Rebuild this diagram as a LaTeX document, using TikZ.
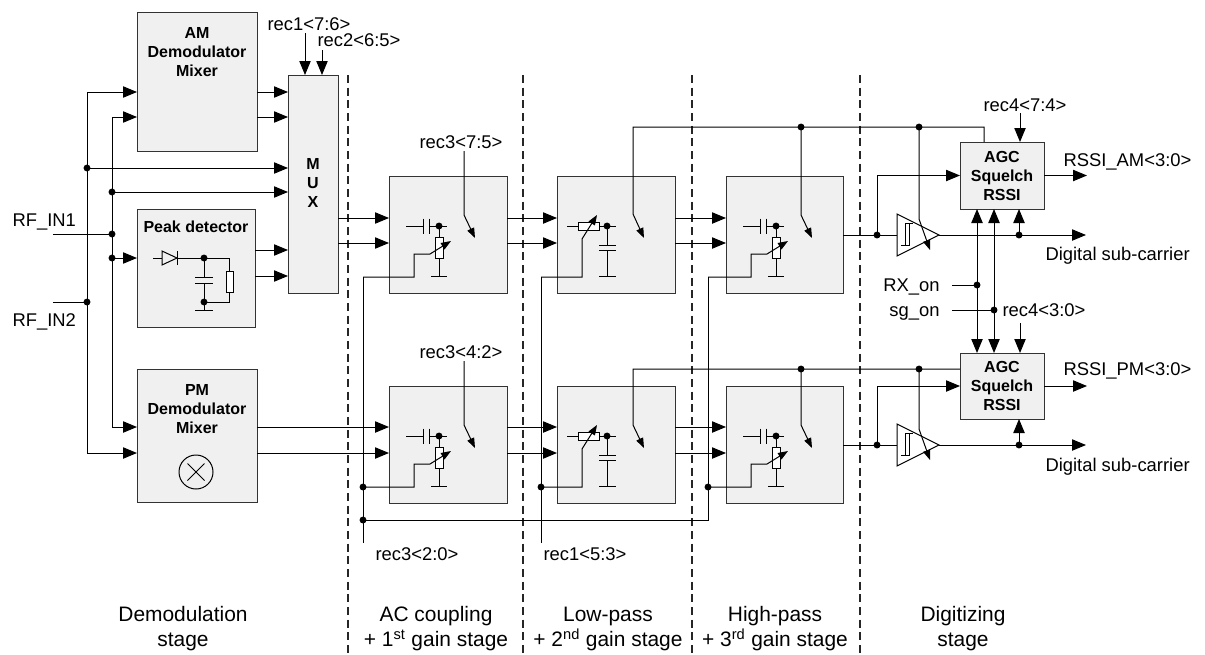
\documentclass[tikz,border=0pt]{standalone}
\usepackage{fontspec}
\setmainfont{Liberation Sans}
\usetikzlibrary{arrows.meta}
\newcommand\hpstage[3]{%
\begin{scope}[shift={(#1,#2)}]
\draw (17,50) -- (34,50) (34,42.5) -- (34,57.5) (40,42.5) -- (40,57.5) (40,50) -- (58,50);
\draw (50,50) -- (50,61) (50,82) -- (50,100) (42,100) -- (58,100);
\draw[fill=white] (46,61) rectangle (54,82);
\fill (50,50) circle (2.6pt);
\draw[sarr] ({#3-#1},101) -| (25,78) -- (41,78) -- (62,65);
\end{scope}}
\newcommand\lpstage[3]{%
\begin{scope}[shift={(#1,#2)}]
\draw (10,50) -- (21,50) (42,50) -- (59,50);
\draw[fill=white] (21,46) rectangle (42,54);
\draw (50,50) -- (50,69) (42,69) -- (59,69) (42,74) -- (59,74) (50,74) -- (50,100) (42,100) -- (59,100);
\fill (50,50) circle (2.6pt);
\draw[sarr] ({#3-#1},101) -| (25,63) -- (40,39);
\end{scope}}
\newcommand\mybox[5]{\node[box, anchor=north west, minimum width={(#4-#2)*0.75pt}, minimum height={(#5-#3)*0.75pt}] (#1) at (#2,#3) {};}
\newcommand\comparator[1]{%
\begin{scope}[shift={(897,#1)}]
\draw[fill=white] (0,-21) -- (42,0) -- (0,21) -- cycle;
\draw (4,10) -- (12,10) -- (12,-12) (8,10) -- (8,-12) -- (16,-12);
\end{scope}}
\begin{document}
\begin{tikzpicture}[x=0.75pt,y=-0.75pt, line width=0.75pt,
 arr/.style={-{Triangle[length=10.5pt,width=8.5pt]}},
 darr/.style={{Triangle[length=10.5pt,width=8.5pt]}-{Triangle[length=10.5pt,width=8.5pt]}},
 sarr/.style={-{Triangle[length=7.5pt,width=5.5pt]}},
 box/.style={draw=black!80, fill=black!6, inner sep=0pt, outer sep=0pt},
 lbl/.style={inner sep=0pt, font=\fontsize{13.8}{16}\selectfont, text height=9.9pt, text depth=0pt},
 btxt/.style={inner sep=0pt, align=center, font=\bfseries\fontsize{12}{14.25}\selectfont},
 stg/.style={inner sep=0pt, align=center, font=\fontsize{15.7}{18.75}\selectfont},
 sep/.style={dash pattern=on 6pt off 3.5pt, line width=0.9pt, draw=black!85}]
\useasboundingbox (0,0) rectangle (1205,654);

% stage separators
\foreach \xs in {348,523,692,860} \draw[sep] (\xs,75) -- (\xs,654);

% boxes
\mybox{am}{137}{12}{257}{151}
\mybox{pk}{137}{209}{255}{327}
\mybox{pm}{137}{369}{257}{502}
\mybox{mux}{288}{75}{338}{293}
\mybox{ac1}{389}{176}{507}{293}
\mybox{lp1}{557}{176}{675}{293}
\mybox{hp1}{726}{176}{843}{293}
\mybox{ac2}{389}{386}{507}{503}
\mybox{lp2}{557}{386}{675}{503}
\mybox{hp2}{726}{386}{843}{503}
\mybox{agc1}{960}{142}{1044}{209}
\mybox{agc2}{960}{353}{1044}{419}

% box texts
\node[btxt] (tam) at (197,52) {AM\\Demodulator\\Mixer};
\node[btxt] (tpm) at (197,409) {PM\\Demodulator\\Mixer};
\node[btxt] (tpk) at (196,227) {Peak detector};
\node[btxt] (tmux) at (313,183) {M\\U\\X};
\node[btxt] (tagc1) at (1002,176) {AGC\\Squelch\\RSSI};
\node[btxt] (tagc2) at (1002,386) {AGC\\Squelch\\RSSI};

% mixer symbol
\draw (196,472) circle (12.75pt);
\draw (187.5,463.5) -- (204.5,480.5) (187.5,480.5) -- (204.5,463.5);

% peak detector internals
\draw (153,258) -- (162,258);
\draw (162,251) -- (162,265) -- (177,258) -- cycle;
\draw (177,251) -- (177,265);
\draw (177,258) -- (229,258) -- (229,271);
\draw[fill=white] (226,271) rectangle (233,292);
\draw (229,292) -- (229,302) -- (204,302);
\draw (204,258) -- (204,277) (195,277) -- (213,277) (195,283) -- (213,283) (204,283) -- (204,310) (195,310) -- (213,310);
\fill (204,258) circle (2.6pt) (204,302) circle (2.6pt);

% left input network
\coordinate (jA1) at (87,168);
\coordinate (jA2) at (87,302);
\coordinate (jB1) at (112,192);
\coordinate (jB2) at (112,234);
\coordinate (jB3) at (112,258);
\draw[arr] (jA2) |- (am.west |- 0,92);
\draw[arr] (jA2) |- (pm.west |- 0,453);
\draw[arr] (jB2) |- (am.west |- 0,117);
\draw[arr] (jB2) |- (pm.west |- 0,427);
\draw[arr] (jA1) -- (mux.west |- jA1);
\draw[arr] (jB1) -- (mux.west |- jB1);
\draw[arr] (jB3) -- (pk.west |- jB3);
\node[lbl, anchor=west] (rf1) at (12,220) {RF\_IN1};
\node[lbl, anchor=west] (rf2) at (12,320) {RF\_IN2};
\coordinate (rf1e) at (53,234);
\coordinate (rf2e) at (53,302);
\draw (rf1e) -- (jB2);
\draw (rf2e) -- (jA2);
\foreach \j in {jA1,jA2,jB1,jB2,jB3} \fill (\j) circle (2.6pt);

% into MUX
\draw[arr] (am.east |- 0,92) -- (mux.west |- 0,92);
\draw[arr] (am.east |- 0,117) -- (mux.west |- 0,117);
\draw[arr] (pk.east |- 0,250) -- (mux.west |- 0,250);
\draw[arr] (pk.east |- 0,276) -- (mux.west |- 0,276);
\node[lbl, anchor=west] (r176) at (267,24) {rec1<7:6>};
\node[lbl, anchor=west] (r265) at (317,40) {rec2<6:5>};
\draw[arr] (305,33) -- (mux.north -| 305,0);
\draw[arr] (322,50) -- (mux.north -| 322,0);

% chain upper
\draw[arr] (mux.east |- 0,218) -- (ac1.west |- 0,218);
\draw[arr] (mux.east |- 0,243) -- (ac1.west |- 0,243);
\draw[arr] (ac1.east |- 0,218) -- (lp1.west |- 0,218);
\draw[arr] (ac1.east |- 0,243) -- (lp1.west |- 0,243);
\draw[arr] (lp1.east |- 0,218) -- (hp1.west |- 0,218);
\draw[arr] (lp1.east |- 0,243) -- (hp1.west |- 0,243);
% chain lower
\draw[arr] (pm.east |- 0,427) -- (ac2.west |- 0,427);
\draw[arr] (pm.east |- 0,453) -- (ac2.west |- 0,453);
\draw[arr] (ac2.east |- 0,427) -- (lp2.west |- 0,427);
\draw[arr] (ac2.east |- 0,453) -- (lp2.west |- 0,453);
\draw[arr] (lp2.east |- 0,427) -- (hp2.west |- 0,427);
\draw[arr] (lp2.east |- 0,453) -- (hp2.west |- 0,453);

% stage internals
\hpstage{389}{176}{363}
\hpstage{389}{386}{363}
\lpstage{557}{176}{541}
\lpstage{557}{386}{541}
\hpstage{726}{176}{708}
\hpstage{726}{386}{708}

% gain control buses
\draw (363,277) -- (363,543);
\draw (541,277) -- (541,543);
\draw (708,277) -- (708,520) -- (363,520);
\foreach \p in {(363,487),(363,520),(541,487),(708,487)} \fill \p circle (2.6pt);
\node[lbl, anchor=west] (r320) at (375,554) {rec3<2:0>};
\node[lbl, anchor=west] (r153) at (543,554) {rec1<5:3>};

% switches
\node[lbl] (r375) at (461,142) {rec3<7:5>};
\node[lbl] (r342) at (461,352) {rec3<4:2>};
\draw[sarr] (464,151) -- (464,215) -- (475,238);
\draw[sarr] (464,361) -- (464,425) -- (475,448);

% comparators
\comparator{235}
\comparator{445}

\draw[sarr] (agc1.north -| 984,0) |- (633,127) -- (633,214) -- (644,238);
\draw[sarr] (agc2.west |- 0,369) -- (633,369) -- (633,425) -- (644,448);
\draw[sarr] (801,127) -- (801,215) -- (812,238);
\draw[sarr] (801,369) -- (801,425) -- (812,448);
\draw[sarr] (919,127) -- (919,219) -- (930,250);
\draw[sarr] (919,369) -- (919,429) -- (930,460);
\foreach \p in {(801,127),(919,127),(801,369),(919,369)} \fill \p circle (2.6pt);

% digitizing
\draw (hp1.east |- 0,235) -- (897,235);
\draw (hp2.east |- 0,445) -- (897,445);
\draw[arr] (877,235) |- (agc1.west);
\draw[arr] (877,445) |- (agc2.west);
\draw[arr] (939,235) -- (1086,235);
\draw[arr] (939,445) -- (1086,445);
\draw[arr] (1019,235) -- (agc1.south -| 1019,0);
\draw[arr] (1019,445) -- (agc2.south -| 1019,0);
\foreach \p in {(877,235),(877,445),(1019,235),(1019,445)} \fill \p circle (2.6pt);

\draw[darr] (agc1.south -| 977,0) -- (agc2.north -| 977,0);
\draw[darr] (agc1.south -| 994,0) -- (agc2.north -| 994,0);
\node[lbl, anchor=east] (rxon) at (940,285) {RX\_on};
\node[lbl, anchor=east] (sgon) at (940,310) {sg\_on};
\draw (952,285) -- (977,285);
\draw (952,310) -- (994,310);
\fill (977,285) circle (2.6pt) (994,310) circle (2.6pt);
\node[lbl, anchor=west] (r430) at (1002,310) {rec4<3:0>};
\node[lbl, anchor=west] (r474) at (983,105) {rec4<7:4>};
\draw[arr] (1020,323) -- (agc2.north -| 1020,0);
\draw[arr] (1020,113) -- (agc1.north -| 1020,0);
\draw[arr] (agc1.east) -- ++(43,0);
\draw[arr] (agc2.east) -- ++(43,0);
\node[lbl, anchor=west] (ram) at (1063,160) {RSSI\_AM<3:0>};
\node[lbl, anchor=west] (rpm) at (1063,369) {RSSI\_PM<3:0>};
\node[lbl, anchor=west] (dsc1) at (1045,254) {Digital sub-carrier};
\node[lbl, anchor=west] (dsc2) at (1045,465) {Digital sub-carrier};

% stage labels
\node[stg] (s1) at (183,628.5) {Demodulation\\stage};
\node[stg] (s2) at (436,628.5) {AC coupling\\+ 1\textsuperscript{st} gain stage};
\node[stg] (s3) at (608,628.5) {Low-pass\\+ 2\textsuperscript{nd} gain stage};
\node[stg] (s4) at (775,628.5) {High-pass\\+ 3\textsuperscript{rd} gain stage};
\node[stg] (s5) at (963,628.5) {Digitizing\\stage};
\end{tikzpicture}
\end{document}
